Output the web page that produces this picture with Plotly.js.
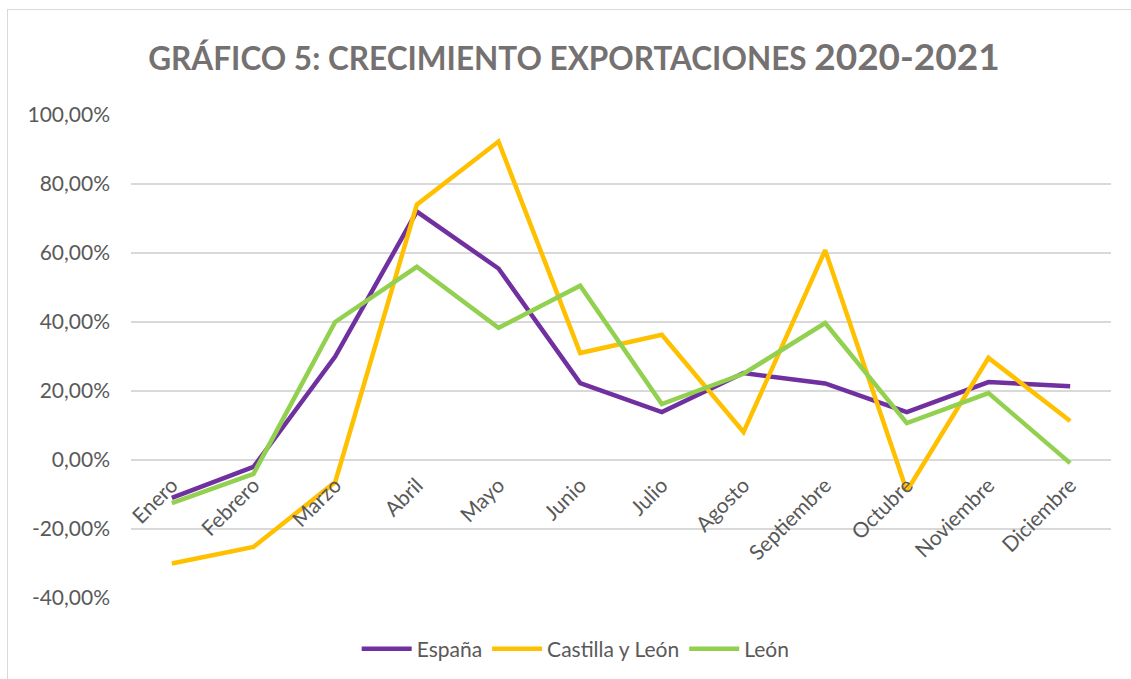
<!DOCTYPE html>
<html>
<head>
<meta charset="utf-8">
<script src="https://cdn.plot.ly/plotly-3.0.1.min.js"></script>
<style>
  html, body { margin: 0; padding: 0; background: #fff; overflow: hidden; }
  #chart { width: 1131px; height: 679px; }
  #frame { position: absolute; left: 7px; top: 9px; width: 1200px; height: 800px;
           border: 1px solid #d9d9d9; pointer-events: none; }
</style>
</head>
<body>
<div id="chart"></div>
<div id="frame"></div>
<script>
const months = ["Enero","Febrero","Marzo","Abril","Mayo","Junio","Julio","Agosto","Septiembre","Octubre","Noviembre","Diciembre"];
const espana = [-11, -2, 30, 72, 55.5, 22.3, 13.9, 25.2, 22.2, 13.9, 22.6, 21.4];
const castillaLeon = [-30, -25.2, -6.4, 74, 92.3, 31, 36.3, 8.1, 60.8, -9, 29.6, 11.3];
const leon = [-12.5, -4, 40, 56, 38.3, 50.5, 16.2, 25, 39.7, 10.7, 19.4, -0.9];
const seriesNames = ["España", "Castilla y León", "León"];
const seriesColors = ["#7030A0", "#FFC000", "#92D050"];
const yTickVals = [-40, -20, 0, 20, 40, 60, 80, 100];
const yTickText = ["-40,00%", "-20,00%", "0,00%", "20,00%", "40,00%", "60,00%", "80,00%", "100,00%"];
const yRange = [-40, 100];

const fontFam = "Lato, 'Open Sans', sans-serif";
const txtColor = "#595959";

const traces = [espana, castillaLeon, leon].map((vals, i) => ({
  type: "scatter",
  mode: "lines",
  x: months,
  y: vals,
  name: seriesNames[i],
  line: { color: seriesColors[i], width: 4.5 },
  hoverinfo: "skip"
}));

const layout = {
  width: 1131,
  height: 679,
  paper_bgcolor: "#ffffff",
  plot_bgcolor: "#ffffff",
  margin: { l: 131, r: 20, t: 115, b: 81 },
  separators: ",.",
  font: { family: fontFam, color: txtColor, size: 21 },
  title: {
    text: "GRÁFICO 5: CRECIMIENTO EXPORTACIONES <span style='font-size:37px'>2020-2021</span>",
    font: { family: fontFam, size: 31.5, color: "#757171", weight: "bold" },
    xref: "container", yref: "container",
    x: 0.5075, xanchor: "center",
    y: 0.913, yanchor: "middle"
  },
  xaxis: {
    type: "category",
    range: [-0.5, months.length - 0.5],
    anchor: "free",
    position: (0 - yRange[0]) / (yRange[1] - yRange[0]),
    showgrid: false,
    zeroline: false,
    showline: false,
    ticks: "",
    tickangle: -45,
    ticklabelstandoff: 8,
    tickfont: { family: fontFam, size: 21, color: txtColor },
    fixedrange: true
  },
  yaxis: {
    range: yRange,
    tickmode: "array",
    tickvals: yTickVals,
    ticktext: yTickText,
    showgrid: true,
    gridcolor: "#d9d9d9",
    gridwidth: 1.3,
    zeroline: false,
    showline: false,
    ticks: "",
    ticklabelstandoff: 20,
    tickfont: { family: fontFam, size: 21, color: txtColor },
    fixedrange: true
  },
  showlegend: true,
  legend: {
    orientation: "h",
    xref: "container", yref: "container",
    x: 0.509, xanchor: "center",
    y: 0.044, yanchor: "middle",
    font: { family: fontFam, size: 21, color: txtColor },
    itemwidth: 50,
    tracegroupgap: 0
  }
};

Plotly.newPlot("chart", traces, layout, { displayModeBar: false, staticPlot: true });
</script>
</body>
</html>
